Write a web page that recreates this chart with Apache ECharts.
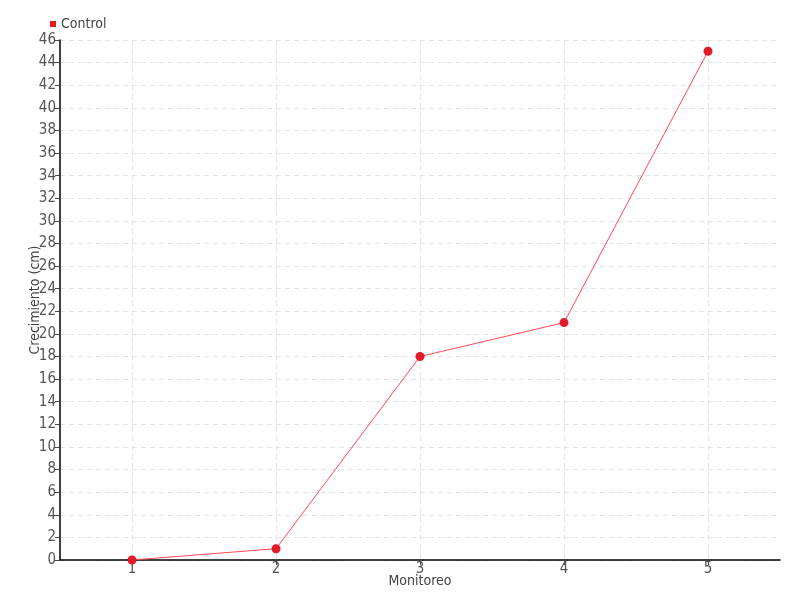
<!DOCTYPE html>
<html><head><meta charset="utf-8">
<script src="https://cdn.jsdelivr.net/npm/echarts@6/dist/echarts.min.js"></script>
<style>html,body{margin:0;padding:0;background:#fff}#c{width:800px;height:600px}</style>
</head><body><div id="c"></div>
<script>
const categories = ['1','2','3','4','5'];
const controlValues = [0, 1, 18, 21, 45];
const seriesName = 'Control';
const FONT = '"DejaVu Sans Condensed","Liberation Sans Narrow",sans-serif';
const chart = echarts.init(document.getElementById('c'));
chart.setOption({
  animation: false,
  textStyle: {fontFamily: FONT},
  legend: {
    data: [{name: seriesName, icon: 'rect'}],
    left: 45, top: 12, itemWidth: 6, itemHeight: 6, itemGap: 3,
    textStyle: {fontFamily: FONT, fontSize: 14, color: '#444'}
  },
  grid: {left: 60, right: 20, top: 40, bottom: 40},
  xAxis: {
    type: 'category', data: categories, boundaryGap: true,
    name: 'Monitoreo', nameLocation: 'middle', nameGap: 14, nameMoveOverlap: false,
    nameTextStyle: {fontFamily: FONT, fontSize: 14, color: '#444'},
    axisLine: {lineStyle: {color: '#000', width: 1.5}},
    axisTick: {show: true, alignWithLabel: true, length: 5, lineStyle: {color: '#444'}},
    axisLabel: {fontFamily: FONT, fontSize: 15, color: '#555', margin: 2},
    splitLine: {show: true, alignWithLabel: true, lineStyle: {color: '#e3e3e3', type: [5,4]}}
  },
  yAxis: {
    type: 'value', min: 0, max: 46, interval: 2,
    name: 'Crecimiento (cm)', nameLocation: 'middle', nameGap: 18, nameMoveOverlap: false,
    nameTextStyle: {fontFamily: FONT, fontSize: 14, color: '#444'},
    axisLine: {show: true, lineStyle: {color: '#000', width: 1.5}},
    axisTick: {show: true, length: 5, lineStyle: {color: '#444'}},
    axisLabel: {fontFamily: FONT, fontSize: 15, color: '#555', margin: 4},
    splitLine: {show: true, lineStyle: {color: '#e3e3e3', type: [5,4]}}
  },
  series: [{
    name: seriesName, type: 'line', data: controlValues,
    symbol: 'circle', symbolSize: 9,
    itemStyle: {color: '#e31a2a'},
    lineStyle: {color: '#ff4a55', width: 1}
  }]
});
</script></body></html>
